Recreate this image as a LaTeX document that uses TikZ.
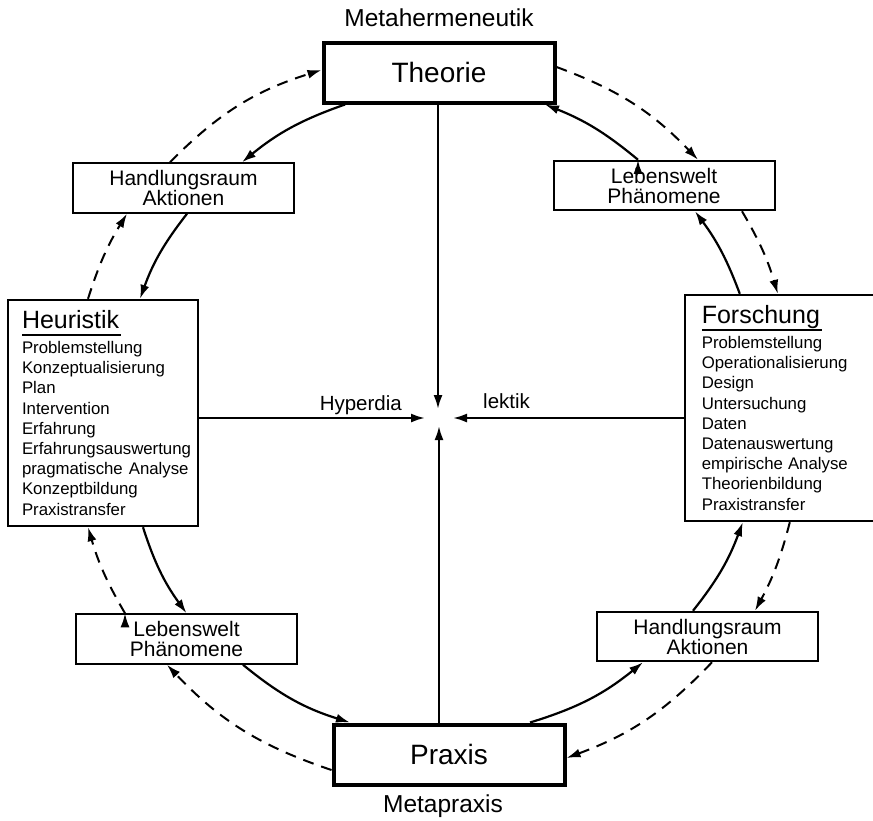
\documentclass[tikz,border=0pt]{standalone}
\usepackage{fontspec}
\setmainfont{Liberation Sans}
\usetikzlibrary{positioning,arrows.meta}
\newcommand\headfont{\fontsize{25}{30}\selectfont}
\newcommand\ulhead[1]{\leavevmode\sbox0{#1}\rlap{\rule[-7.5pt]{\dimexpr\wd0+2pt\relax}{2pt}}\usebox0}
\tikzset{ %
  ,>={Latex[length=14pt,width=9pt]}
  ,x=1pt,y=1pt
  ,polebox/.style={draw, line width=4pt, inner sep=0, minimum width=231pt, minimum height=60pt, font=\fontsize{28}{30}\selectfont}
  ,stationbox/.style={draw, line width=2pt, inner sep=0, minimum width=221pt, minimum height=49.5pt, align=center, font=\fontsize{21}{20}\selectfont}
  ,fieldbox/.style={draw, line width=2pt, inner ysep=0, minimum height=226.4pt, align=left, font=\fontsize{16.8}{20.2}\selectfont, execute at begin node={\hyphenpenalty=10000}}
  ,metalabel/.style={inner sep=0, font=\fontsize{24.5}{26}\selectfont}
  ,dialabel/.style={inner sep=0, font=\fontsize{20.5}{22}\selectfont}
  ,innerarc/.style={->, line width=2.2pt}
  ,outerarc/.style={->, line width=2pt, dash pattern=on 11pt off 8pt}
}
\begin{document}
\begin{tikzpicture}
      \useasboundingbox (0,0) rectangle (873,-820);
      \draw
      node[polebox] (theorie) at (439,-72.5) {Theorie}
      node[polebox] (praxis) at (449,-754.5) {Praxis}
      node[stationbox] (hraumA) at (183.5,-188) {Handlungsraum\\Aktionen}
      node[stationbox] (lweltA) at (664,-185.5) {Lebenswelt\\Phänomene}
      node[stationbox] (lweltB) at (186.5,-639) {Lebenswelt\\Phänomene}
      node[stationbox] (hraumB) at (707.5,-636.5) {Handlungsraum\\Aktionen}
      node[fieldbox, inner xsep=14.2pt, text width=162pt] (heuristik) at (103,-413)
        {\ulhead{\headfont Heuristik}\\[4.5pt]
         Problemstellung\\ Konzeptualisierung\\ Plan\\ Intervention\\ Erfahrung\\
         Erfahrungsauswertung\\ \mbox{pragmatische\hspace{6pt}Analyse}\\ Konzeptbildung\\ Praxistransfer}
      node[fieldbox, inner xsep=17pt, text width=170pt] (forschung) at (786.8,-408)
        {\ulhead{\headfont Forschung}\\[4.5pt]
         Problemstellung\\ Operationalisierung\\ Design\\ Untersuchung\\ Daten\\
         Datenauswertung\\ \mbox{empirische\hspace{5pt}Analyse}\\ Theorienbildung\\ Praxistransfer};
      \node[metalabel, above=14pt of theorie] (metaherm) {Metahermeneutik};
      \node[metalabel, below=8pt of praxis, xshift=-6pt] (metapraxis) {Metapraxis};
      % hyperdialektik in the middle
      \coordinate (hubN) at (438,-409);
      \coordinate (hubS) at (439,-426);
      \coordinate (hubW) at (425,-418);
      \coordinate (hubE) at (453,-418);
      \draw [innerarc] (theorie.south -| hubN) -- (hubN);
      \draw [innerarc] (praxis.north -| hubS) -- (hubS);
      \draw [innerarc] (heuristik.east |- hubW) -- (hubW);
      \draw [innerarc] (forschung.west |- hubE) -- (hubE);
      \node[dialabel, above left=2.7pt and 23pt of hubW] (hyper) {Hyperdia};
      \node[dialabel, above right=9pt and 30pt of hubE] (lektik) {lektik};
      % inner cycle
      \draw [innerarc]
      ([xshift=-94pt]theorie.south) edge[bend right=10] ([xshift=58.5pt]hraumA.north)
      ([xshift=3.5pt]hraumA.south) edge[bend right=9] ([xshift=37pt]heuristik.north)
      ([xshift=40pt]heuristik.south) edge[bend right=9] (lweltB.north)
      ([xshift=56.5pt]lweltB.south) edge[bend right=11] ([xshift=-99pt]praxis.north)
      ([xshift=81pt]praxis.north) edge[bend right=11] ([xshift=-64.5pt]hraumB.south)
      ([xshift=-14.5pt]hraumB.north) edge[bend right=9] ([xshift=-44pt]forschung.south)
      ([xshift=-47pt]forschung.north) edge[bend right=8] ([xshift=31pt]lweltA.south)
      ([xshift=-26pt]lweltA.north) edge[bend right=9] ([xshift=106pt]theorie.south);
      % outer cycle
      \draw [outerarc]
      ([xshift=-15pt]heuristik.north) edge[bend left=7] ([xshift=-56.5pt]hraumA.south)
      ([xshift=-13.5pt]hraumA.north) edge[bend left=14] ([yshift=2.5pt]theorie.west)
      ([yshift=5.5pt]theorie.east) edge[bend left=13] ([xshift=34pt]lweltA.north)
      ([xshift=78pt]lweltA.south) edge[bend left=7] ([xshift=-9pt]forschung.north)
      ([xshift=3pt]forschung.south) edge[bend left=7] ([xshift=47.5pt]hraumB.north)
      ([xshift=4.5pt]hraumB.south) edge[bend left=13] ([yshift=-3.5pt]praxis.east)
      ([yshift=-15.5pt]praxis.west) edge[bend left=14] ([xshift=-19.5pt]lweltB.south)
      ([xshift=-61.5pt]lweltB.north) edge[bend left=7] ([xshift=-15pt]heuristik.south);
    \end{tikzpicture}
\end{document}
